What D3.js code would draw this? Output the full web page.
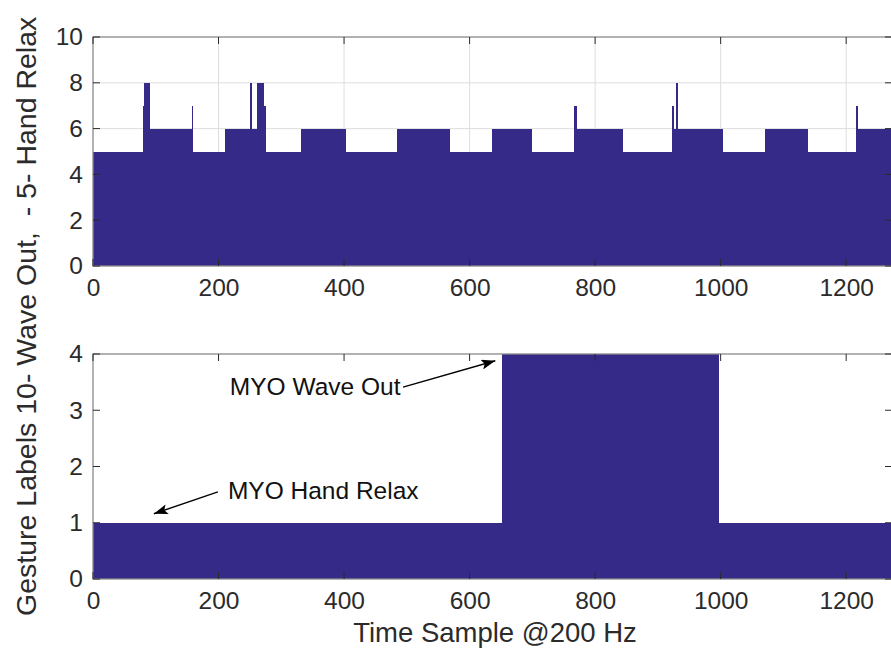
<!DOCTYPE html>
<html><head><meta charset="utf-8">
<script src="https://cdn.jsdelivr.net/npm/d3@7"></script>
<style>body{margin:0;background:#fff}svg{display:block}text{font-family:"Liberation Sans",Arial,sans-serif}</style>
</head><body><svg id="c" width="891" height="660"></svg>
<script>
// Top panel: gesture label segments (sample start, sample end, label)
const topStart = [0, 79, 81, 91, 157, 159, 211, 250, 253, 262, 272, 275, 331, 403, 484, 568, 635, 700, 766, 771, 844, 922, 925, 929, 932, 1003, 1070, 1139, 1216, 1219];
const topEnd   = [79, 81, 91, 157, 159, 211, 250, 253, 262, 272, 275, 331, 403, 484, 568, 635, 700, 766, 771, 844, 922, 925, 929, 932, 1003, 1070, 1139, 1216, 1219, 1273];
const topValue = [5, 7, 8, 6, 7, 5, 6, 8, 6, 8, 7, 5, 6, 5, 6, 5, 6, 5, 7, 6, 5, 7, 6, 8, 6, 5, 6, 5, 7, 6];
// Bottom panel: MYO labels
const botStart = [0, 652, 997];
const botEnd   = [652, 997, 1273];
const botValue = [1, 4, 1];
const xTicks = [0, 200, 400, 600, 800, 1000, 1200];
const topYTicks = [0, 2, 4, 6, 8, 10];
const botYTicks = [0, 1, 2, 3, 4];
const xMax = 1273;
const annotations = [
  {text: "MYO Wave Out", tx: 218, ty: 3.27, x1: 494, y1: 3.41, x2: 641, y2: 3.88},
  {text: "MYO Hand Relax", tx: 215, ty: 1.42, x1: 199, y1: 1.55, x2: 97, y2: 1.16}
];

const svg = d3.select("#c");
const barColor = "#352a87", axisColor = "#8a8a8a", textColor = "#2b2b2b";
const defs = svg.append("defs");
defs.append("marker").attr("id","ah").attr("viewBox","0 0 14 10").attr("refX",14).attr("refY",5)
  .attr("markerWidth",14).attr("markerHeight",10).attr("markerUnits","userSpaceOnUse").attr("orient","auto")
  .append("path").attr("d","M0,0L14,5L0,10L3,5Z").attr("fill","#000");

function panel(top, bottom, yMax, yTicks, starts, ends, vals, grid) {
  const x = d3.scaleLinear().domain([0, xMax]).range([93, 892]);
  const y = d3.scaleLinear().domain([0, yMax]).range([bottom, top]);
  const g = svg.append("g");
  if (grid) {
    g.selectAll(".gx").data(xTicks.slice(1)).join("line")
      .attr("x1", d => x(d)).attr("x2", d => x(d)).attr("y1", top).attr("y2", bottom)
      .attr("stroke", "#dedede").attr("stroke-width", 1);
    g.selectAll(".gy").data(yTicks.slice(1, -1)).join("line")
      .attr("x1", 93).attr("x2", 892).attr("y1", d => y(d)).attr("y2", d => y(d))
      .attr("stroke", "#dedede").attr("stroke-width", 1);
  }
  g.selectAll("rect.bar").data(vals).join("rect").attr("class","bar")
    .attr("x", (d, i) => x(starts[i]))
    .attr("width", (d, i) => Math.max(1, x(ends[i]) - x(starts[i])))
    .attr("y", d => y(d)).attr("height", d => y(0) - y(d))
    .attr("fill", barColor).attr("shape-rendering","crispEdges");
  g.append("rect").attr("x", 93).attr("y", top).attr("width", 892 - 93).attr("height", bottom - top)
    .attr("fill", "none").attr("stroke", axisColor).attr("stroke-width", 1.3);
  const tl = 7;
  xTicks.forEach(t => {
    g.append("line").attr("x1", x(t)).attr("x2", x(t)).attr("y1", bottom).attr("y2", bottom - tl).attr("stroke", textColor).attr("stroke-width",1);
    g.append("line").attr("x1", x(t)).attr("x2", x(t)).attr("y1", top).attr("y2", top + tl).attr("stroke", textColor).attr("stroke-width",1);
  });
  yTicks.forEach(t => {
    g.append("line").attr("x1", 93).attr("x2", 93 + tl).attr("y1", y(t)).attr("y2", y(t)).attr("stroke", textColor).attr("stroke-width",1);
    g.append("line").attr("x1", 892).attr("x2", 892 - tl).attr("y1", y(t)).attr("y2", y(t)).attr("stroke", textColor).attr("stroke-width",1);
  });
  const ax = g.append("g").attr("transform", `translate(0,${bottom})`)
    .call(d3.axisBottom(x).tickValues(xTicks).tickSize(0).tickPadding(13).tickFormat(d3.format("d")));
  const ay = g.append("g").attr("transform", `translate(93,0)`)
    .call(d3.axisLeft(y).tickValues(yTicks).tickSize(0).tickPadding(10).tickFormat(d3.format("d")));
  [ax, ay].forEach(a => {
    a.select(".domain").remove();
    a.selectAll("text").attr("font-size", 24.5).attr("fill", textColor).attr("font-family", '"Liberation Sans",Arial,sans-serif');
  });
  return {x, y, g};
}

panel(37, 266, 10, topYTicks, topStart, topEnd, topValue, true);
const bp = panel(354, 579, 4, botYTicks, botStart, botEnd, botValue, false);

annotations.forEach(a => {
  bp.g.append("line").attr("x1", bp.x(a.x1)).attr("y1", bp.y(a.y1)).attr("x2", bp.x(a.x2)).attr("y2", bp.y(a.y2))
    .attr("stroke", "#000").attr("stroke-width", 1.4).attr("marker-end", "url(#ah)");
  bp.g.append("text").attr("x", bp.x(a.tx)).attr("y", bp.y(a.ty)).attr("font-size", 24.5).attr("fill", "#111").text(a.text);
});

svg.append("text").attr("x", 495).attr("y", 642).attr("text-anchor", "middle")
  .attr("font-size", 27.5).attr("fill", textColor).text("Time Sample @200 Hz");
svg.append("text").attr("transform", "translate(36,616) rotate(-90)").attr("text-anchor", "start")
  .attr("font-size", 28.5).attr("fill", textColor).attr("xml:space","preserve").style("white-space","pre")
  .text("Gesture Labels 10- Wave Out,  - 5- Hand Relax");
</script></body></html>
